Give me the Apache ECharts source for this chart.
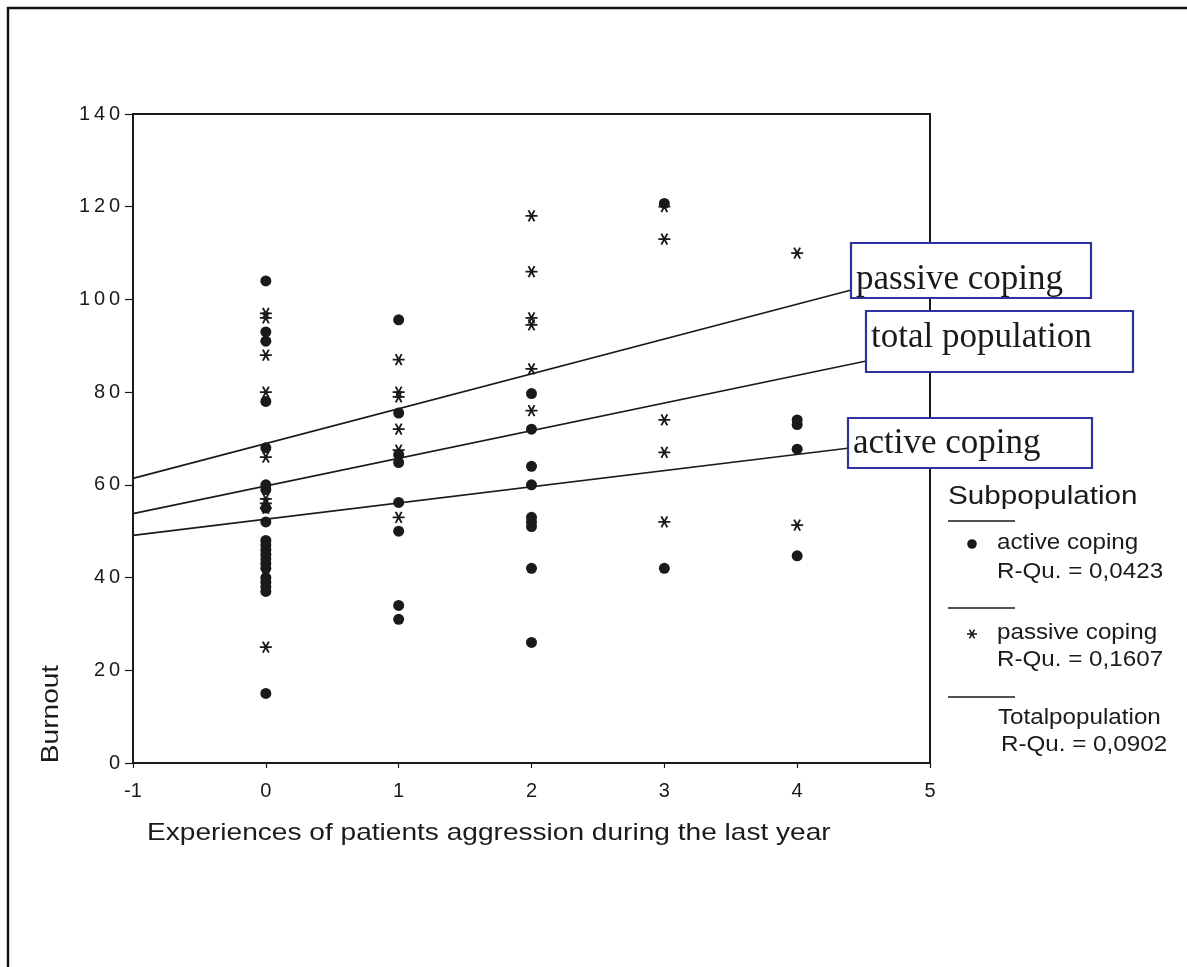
<!DOCTYPE html>
<html>
<head>
<meta charset="utf-8">
<script src="https://cdn.jsdelivr.net/npm/echarts@6/dist/echarts.min.js"></script>
<style>
html,body{margin:0;padding:0;background:#fff;}
#chart{width:1187px;height:967px;}
</style>
</head>
<body>
<div id="chart"></div>
<script>
// ---- data ----
const xTickMin = -1, xTickMax = 5, xTickStep = 1;
const yTickMin = 0, yTickMax = 140, yTickStep = 20;

// [experiences, burnout]
const activeCoping = [
  [0,104],[0,93],[0,91],[0,78],[0,68],[0,60],[0,59],[0,55],[0,52],[0,48],[0,47],[0,46],
  [0,45],[0,44],[0,43],[0,42],[0,40],[0,39],[0,38],[0,37],[0,15],
  [1,95.6],[1,75.5],[1,66.5],[1,64.8],[1,56.2],[1,50],[1,34],[1,31],
  [2,79.7],[2,72],[2,64],[2,60],[2,53],[2,52],[2,51],[2,42],[2,26],
  [3,120.7],[3,42],
  [4,74],[4,73],[4,67.7],[4,44.7]
];
const passiveCoping = [
  [0,97],[0,96],[0,88],[0,80],[0,66],[0,57],[0,56],[0,55],[0,25],
  [1,87],[1,80],[1,79],[1,72],[1,67.5],[1,53],
  [2,118],[2,106],[2,96],[2,94.5],[2,85],[2,76],
  [3,120],[3,113],[3,74],[3,67],[3,52],
  [4,110],[4,51.3]
];
// fit lines, endpoints
const passiveFit = [[-1,61.4],[4.40,102.0]];
const totalFit   = [[-1,53.8],[4.52,86.7]];
const activeFit  = [[-1,49.1],[4.38,67.9]];

const legendTitle = 'Subpopulation';
const legendItems = [
  ['active coping', 'R-Qu. = 0,0423'],
  ['passive coping', 'R-Qu. = 0,1607'],
  ['Totalpopulation', 'R-Qu. = 0,0902']
];
const lineLabels = ['passive coping', 'total population', 'active coping'];
const xName = 'Experiences of patients aggression during the last year';
const yName = 'Burnout';

// ---- chart ----
const ink = '#1a1a1a';
const boxBlue = '#2f33a0';
const sans = 'Liberation Sans, Arial, Helvetica, sans-serif';
const serif = 'Liberation Serif, Times New Roman, serif';
const asterisk = 'path://M0,50 L100,50 M25,6.7 L75,93.3 M75,6.7 L25,93.3';

const chart = echarts.init(document.getElementById('chart'), null, {renderer:'canvas'});

function lineSeries(data){
  return {type:'line', data:data, symbol:'none', silent:true, z:3,
    lineStyle:{color:ink, width:1.6}, animation:false};
}

function sansText(text, x, y, size, sx, extra){
  return Object.assign({type:'text', x:x, y:y, scaleX:sx, z:100,
    style:{text:text, font: size + 'px ' + sans, fill:ink, align:'left', verticalAlign:'middle'}}, extra||{});
}

function labelBox(text, x, y, w, h, ty){
  return [
    {type:'rect', z:100, shape:{x:x, y:y, width:w, height:h},
      style:{fill:'#fff', stroke:boxBlue, lineWidth:2.2}},
    {type:'text', z:101, x:x+5, y:ty,
      style:{text:text, font:'35px ' + serif, fill:ink, align:'left', verticalAlign:'middle'}}
  ];
}

function seg(x1,y1,x2,y2,w){
  return {type:'line', z:100, shape:{x1:x1, y1:y1, x2:x2, y2:y2}, style:{stroke:ink, lineWidth:w}};
}

const graphics = [
  // outer frame
  {type:'rect', z:0, shape:{x:8, y:8, width:1400, height:1200},
    style:{fill:'none', stroke:'#111', lineWidth:2.4}},
  // axis titles
  sansText(xName, 147, 833, 24, 1.17),
  {type:'text', x:51, y:714, rotation:Math.PI/2, scaleX:1.17, z:100,
    style:{text:yName, font:'24px ' + sans, fill:ink, align:'center', verticalAlign:'middle'}},
  // legend
  sansText(legendTitle, 948, 497, 26, 1.14),
  seg(948, 521, 1015, 521, 1.5),
  {type:'circle', z:100, shape:{cx:972, cy:544, r:4.8}, style:{fill:ink}},
  sansText(legendItems[0][0], 997, 543, 22, 1.1),
  sansText(legendItems[0][1], 997, 572, 22, 1.1),
  seg(948, 608, 1015, 608, 1.5),
  seg(967, 634, 977, 634, 1.6),
  seg(969.5, 629.7, 974.5, 638.3, 1.6),
  seg(974.5, 629.7, 969.5, 638.3, 1.6),
  sansText(legendItems[1][0], 997, 633, 22, 1.1),
  sansText(legendItems[1][1], 997, 660, 22, 1.1),
  seg(948, 697, 1015, 697, 1.5),
  sansText(legendItems[2][0], 998, 718, 22, 1.1),
  sansText(legendItems[2][1], 1001, 745, 22, 1.1)
].concat(
  labelBox(lineLabels[0], 851, 243, 240, 55, 280),
  labelBox(lineLabels[1], 866, 311, 267, 61, 338),
  labelBox(lineLabels[2], 848, 418, 244, 50, 444)
);

const option = {
  animation:false,
  backgroundColor:'#fff',
  grid:{left:133, top:114, width:797, height:649, show:true, borderColor:ink, borderWidth:2, backgroundColor:'transparent'},
  xAxis:[{
    type:'value', min:xTickMin, max:xTickMax, interval:xTickStep,
    axisLine:{show:true, onZero:false, lineStyle:{color:ink, width:2}},
    axisTick:{show:false},
    splitLine:{show:false},
    axisLabel:{color:ink, fontSize:20, fontFamily:sans, margin:18}
  },{
    type:'value', min:xTickMin, max:xTickMax, interval:xTickStep, position:'bottom', offset:4,
    axisLine:{show:false}, splitLine:{show:false}, axisLabel:{show:false},
    axisTick:{show:true, length:5, lineStyle:{color:ink, width:1.2}}
  }],
  yAxis:{
    type:'value', min:yTickMin, max:yTickMax, interval:yTickStep,
    axisLine:{show:true, onZero:false, lineStyle:{color:ink, width:2}},
    axisTick:{show:true, length:8, lineStyle:{color:ink, width:1.2}},
    splitLine:{show:false},
    axisLabel:{
      color:ink, margin:11,
      formatter:function(v){ return String(v).split('').map(function(c){return '{d|'+c+'}';}).join(''); },
      rich:{d:{width:15, align:'center', fontSize:20, fontFamily:sans, color:ink}}
    }
  },
  series:[
    lineSeries(passiveFit),
    lineSeries(totalFit),
    lineSeries(activeFit),
    {type:'scatter', name:'active coping', data:activeCoping, symbol:'circle', symbolSize:11, z:4,
      itemStyle:{color:ink, opacity:1}},
    {type:'scatter', name:'passive coping', data:passiveCoping, symbol:asterisk, symbolSize:[12,11], z:5,
      itemStyle:{color:'rgba(0,0,0,0)', borderColor:ink, borderWidth:1.8, opacity:1}}
  ],
  graphic:graphics
};
chart.setOption(option);
</script>
</body>
</html>
